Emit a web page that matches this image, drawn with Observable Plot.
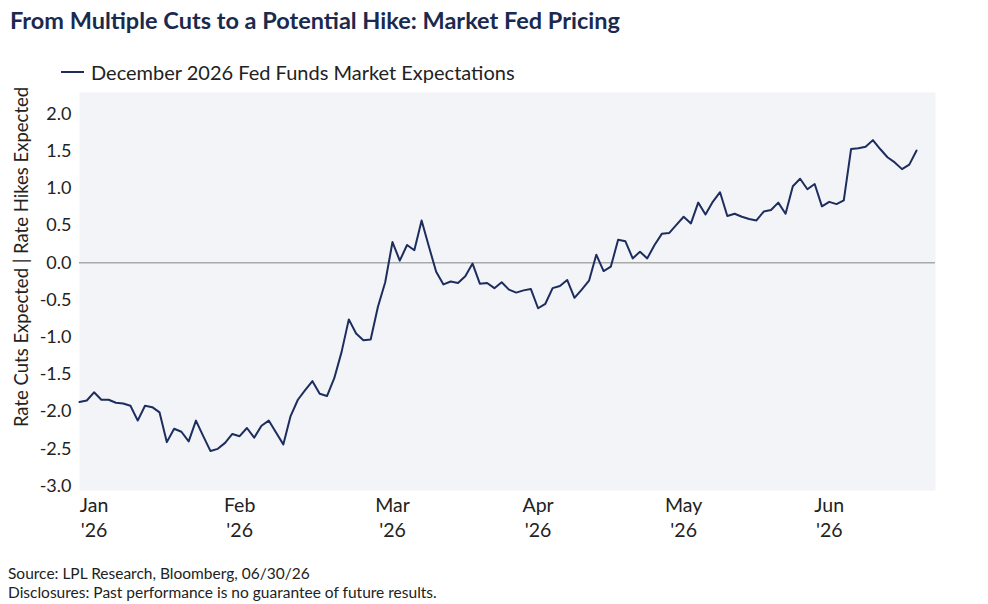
<!DOCTYPE html>
<html>
<head>
<meta charset="utf-8">
<script src="https://cdn.jsdelivr.net/npm/d3@7"></script>
<script src="https://cdn.jsdelivr.net/npm/@observablehq/plot@0.6"></script>
<style>
  body { margin: 0; background: #fff; font-family: Lato, sans-serif; width: 988px; height: 604px; overflow: hidden; position: relative; }
  #title { position: absolute; left: 10px; top: 6px; font-size: 23.5px; font-weight: 700; color: #1a2a4f; white-space: nowrap; }
  #legend { position: absolute; left: 61px; top: 60px; font-size: 20px; color: #222; display: flex; align-items: center; white-space: nowrap; }
  #legend .sw { display: inline-block; width: 23px; height: 2px; background: #1c2d5e; margin-right: 7px; }
  #ylabel { position: absolute; left: 21px; top: 257px; transform: translate(-50%, -50%) rotate(-90deg); font-size: 18.5px; color: #222; white-space: nowrap; }
  #chart { position: absolute; left: 0; top: 88px; }
  #notes { position: absolute; left: 8px; top: 564px; font-size: 15.5px; color: #222; line-height: 19px; }
</style>
</head>
<body>
<div id="title">From Multiple Cuts to a Potential Hike: Market Fed Pricing</div>
<div id="legend"><span class="sw"></span>December 2026 Fed Funds Market Expectations</div>
<div id="ylabel">Rate Cuts Expected | Rate Hikes Expected</div>
<div id="chart"></div>
<div id="notes">Source: LPL Research, Bloomberg, 06/30/26<br>Disclosures: Past performance is no guarantee of future results.</div>
<script>
// market-implied hikes(+)/cuts(-) for Dec 2026, one value per trading day
const expectations = [
  -1.87, -1.85, -1.74, -1.84, -1.84, -1.88, -1.89, -1.92, -2.12, -1.92,
  -1.94, -2.01, -2.41, -2.23, -2.27, -2.40, -2.12, -2.33, -2.53, -2.50,
  -2.42, -2.30, -2.33, -2.22, -2.35, -2.19, -2.12, -2.28, -2.44, -2.06,
  -1.84, -1.71, -1.59, -1.76, -1.79, -1.55, -1.20, -0.76, -0.95, -1.04,
  -1.03, -0.59, -0.26, 0.28, 0.03, 0.24, 0.17, 0.57, 0.22, -0.12,
  -0.29, -0.25, -0.27, -0.18, -0.01, -0.28, -0.27, -0.34, -0.26, -0.36,
  -0.40, -0.37, -0.35, -0.61, -0.55, -0.34, -0.31, -0.23, -0.47, -0.36,
  -0.24, 0.11, -0.11, -0.05, 0.31, 0.29, 0.06, 0.15, 0.06, 0.24,
  0.39, 0.40, 0.51, 0.62, 0.53, 0.81, 0.65, 0.82, 0.95, 0.63,
  0.66, 0.62, 0.59, 0.57, 0.69, 0.71, 0.81, 0.66, 1.03, 1.13,
  0.99, 1.06, 0.76, 0.82, 0.79, 0.84, 1.53, 1.54, 1.56, 1.65,
  1.53, 1.42, 1.35, 1.26, 1.32, 1.51
];

// trading-day index where each month label sits
const monthTickIndex = [2, 22, 43, 63, 83, 103];
const monthLabels = ["Jan", "Feb", "Mar", "Apr", "May", "Jun"];
const yearLabels = ["'26", "'26", "'26", "'26", "'26", "'26"];
const yTicks = [-3, -2.5, -2, -1.5, -1, -0.5, 0, 0.5, 1, 1.5, 2];

const data = expectations.map((v, i) => ({day: i, value: v}));

let chart = Plot.plot({
  width: 988,
  height: 462,
  marginLeft: 79,
  marginRight: 53,
  marginTop: 4,
  marginBottom: 60,
  style: {fontFamily: "Lato, sans-serif", fontSize: "18px", color: "#222", background: "transparent"},
  x: {domain: [0, 117.6], axis: null},
  y: {domain: [-3.06, 2.29], axis: null},
  marks: [
    Plot.frame({fill: "#f3f4f7", stroke: null}),
    Plot.ruleY([0], {stroke: "#a9a9a9", strokeWidth: 1.5}),
    Plot.line(data, {x: "day", y: "value", stroke: "#1c2d5e", strokeWidth: 2}),
    Plot.axisY(yTicks, {label: null, tickSize: 0, tickPadding: 8, fontSize: 18, tickFormat: d => d.toFixed(1)}),
    Plot.axisX(monthTickIndex, {label: null, tickSize: 0, tickPadding: 8, fontSize: 19.5,
      tickFormat: d => monthLabels[monthTickIndex.indexOf(d)]}),
    Plot.axisX(monthTickIndex, {label: null, tickSize: 0, tickPadding: 33, fontSize: 19.5,
      tickFormat: d => yearLabels[monthTickIndex.indexOf(d)]})
  ]
});

d3.select('#chart').append(() => chart);
</script>
</body>
</html>
